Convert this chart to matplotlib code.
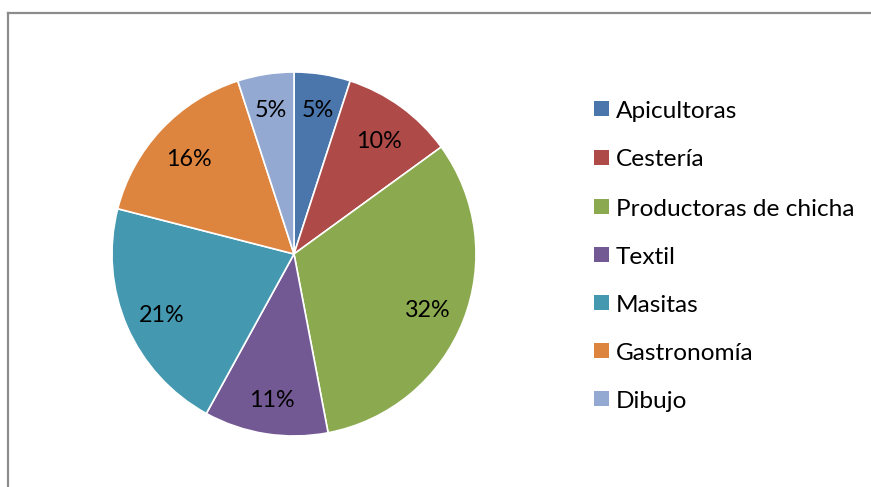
import matplotlib
matplotlib.use("Agg")
import matplotlib.pyplot as plt
from matplotlib.patches import Rectangle
from matplotlib.lines import Line2D
import matplotlib.transforms as mtrans
import numpy as np

categories = ["Apicultoras", "Cestería", "Productoras de chicha", "Textil",
              "Masitas", "Gastronomía", "Dibujo"]
values = [5, 10, 32, 11, 21, 16, 5]
labels_pct = ["5%", "10%", "32%", "11%", "21%", "16%", "5%"]
colors = ["#4A76AC", "#AE4A47", "#8BA94E", "#735993", "#4499B0", "#DD843F", "#94A9D2"]

plt.rcParams['font.family'] = ['Lato', 'DejaVu Sans']

W, H = 871, 487
fig = plt.figure(figsize=(W / 100, H / 100), dpi=100)
fig.patch.set_facecolor("white")

# pie axes: center (294,254) px, radius 182 px
cx, cy, r = 294, 254, 182
ax = fig.add_axes([(cx - r) / W, 1 - (cy + r) / H, 2 * r / W, 2 * r / H])
wedges, texts = ax.pie(values, colors=colors, startangle=90, counterclock=False,
                       radius=1, wedgeprops=dict(edgecolor="white", linewidth=1.2))
ax.set_xlim(-1, 1)
ax.set_ylim(-1, 1)
ax.set_aspect("equal")
ax.axis("off")

shift = mtrans.ScaledTranslation(0, -4 / 100, fig.dpi_scale_trans)
total = sum(values)
cum = 0
for v, lab in zip(values, labels_pct):
    mid = 90 - (cum + v / 2) / total * 360
    cum += v
    d = 0.82 if v <= 5 else 0.79
    ax.text(d * np.cos(np.radians(mid)), d * np.sin(np.radians(mid)), lab,
            ha="center", va="center", fontsize=16.8, color="black",
            transform=ax.transData + shift)

# legend drawn manually
row_y = [108, 157, 206, 254, 302, 350, 398]
for yv, cat, col in zip(row_y, categories, colors):
    fig.patches.append(Rectangle((594 / W, 1 - (yv + 8) / H), 15 / W, 15 / H,
                                 transform=fig.transFigure, facecolor=col,
                                 edgecolor="none"))
    fig.text(616 / W, 1 - (yv + 3) / H, cat, ha="left", va="center",
             fontsize=17.6, color="black")

# chart border (top and left visible)
fig.add_artist(Line2D([8 / W, 1.0], [1 - 13 / H, 1 - 13 / H],
                      transform=fig.transFigure, color="#8C8C8C", linewidth=1.6))
fig.add_artist(Line2D([8 / W, 8 / W], [0, 1 - 13 / H],
                      transform=fig.transFigure, color="#8C8C8C", linewidth=1.6))

fig.savefig("out.png", dpi=100)
